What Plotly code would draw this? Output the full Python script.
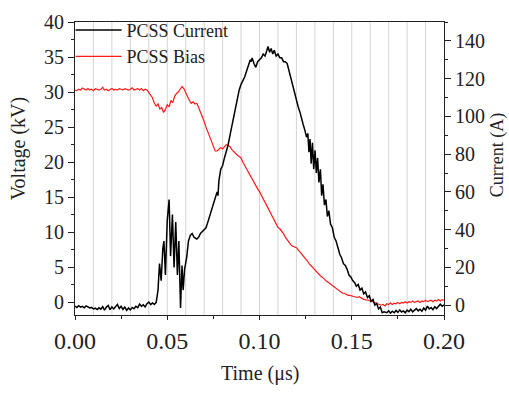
import plotly.graph_objects as go

# ---------------- data ----------------
# PCSS Bias voltage (kV), sampled every 0.001 us from 0 to 0.200 us
bias_kv = [
    30.3, 30.2, 30.4, 30.3, 30.6, 30.4, 30.3, 30.5, 30.3, 30.4,
    30.2, 30.5, 30.4, 30.3, 30.4, 30.7, 30.3, 30.4, 30.2, 30.4,
    30.5, 30.3, 30.4, 30.3, 30.5, 30.4, 30.3, 30.5, 30.4, 30.3,
    30.4, 30.6, 30.3, 30.4, 30.5, 30.3, 30.5, 30.2, 30.4, 30.3,
    29.9, 29.5, 29.2, 28.4, 28.0, 28.3, 27.6, 27.8, 27.1, 27.5,
    28.2, 27.9, 28.8, 28.5, 29.4, 29.8, 30.0, 30.4, 30.8, 30.5,
    29.9, 29.4, 28.8, 28.4, 28.6, 28.3, 28.4, 27.8, 27.2, 26.6,
    25.8, 25.0, 24.3, 23.6, 22.8, 22.0, 21.6, 21.6, 21.9, 22.1,
    21.9, 22.2, 22.5, 22.4, 22.2, 21.8, 21.5, 21.2, 21.0, 20.8,
    20.6, 20.0, 19.5, 19.0, 18.6, 18.0, 17.6, 17.2, 16.7, 16.2,
    15.8, 15.3, 14.8, 14.2, 13.7, 13.3, 12.8, 12.3, 11.9, 11.2,
    10.7, 10.5, 10.2, 9.8, 9.3, 8.9, 8.5, 8.2, 8.0, 7.9,
    7.8, 7.5, 7.2, 6.9, 6.5, 6.2, 5.9, 5.5, 5.2, 4.9,
    4.7, 4.4, 4.1, 3.8, 3.6, 3.3, 3.1, 2.9, 2.7, 2.5,
    2.3, 2.1, 1.8, 1.7, 1.5, 1.3, 1.3, 1.1, 1.0, 1.0,
    0.9, 0.9, 0.8, 0.7, 0.8, 0.6, 0.5, 0.4, 0.4, 0.3,
    0.2, 0.2, 0.0, -0.1, -0.2, -0.3, -0.4, -0.3, -0.5, -0.2,
    -0.3, -0.1, -0.3, -0.1, -0.2, 0.0, -0.2, 0.0, -0.1, 0.1,
    -0.1, 0.1, 0.0, 0.2, 0.0, 0.1, 0.2, 0.0, 0.2, 0.1,
    0.3, 0.1, 0.2, 0.3, 0.1, 0.3, 0.2, 0.4, 0.2, 0.4,
    0.3,
]
bias_time_us = [round(i * 0.001, 3) for i in range(len(bias_kv))]

# PCSS Current (A)
current_time_us = [
    0.000, 0.001, 0.002, 0.003, 0.004, 0.005, 0.006, 0.007, 0.008, 0.009,
    0.010, 0.011, 0.012, 0.013, 0.014, 0.015, 0.016, 0.017, 0.018, 0.019,
    0.020, 0.021, 0.022, 0.023, 0.024, 0.025, 0.026, 0.027, 0.028, 0.029,
    0.030, 0.031, 0.032, 0.033, 0.034, 0.035, 0.036, 0.037, 0.038, 0.039,
    0.040, 0.041, 0.042, 0.043, 0.044,
    0.0450, 0.0458, 0.0467, 0.0476, 0.0482, 0.0490, 0.0500, 0.0510, 0.0518, 0.0528,
    0.0537, 0.0546, 0.0555, 0.0563, 0.0572, 0.0580, 0.0586, 0.0594, 0.0605, 0.0615,
    0.0625, 0.0635, 0.0645, 0.0660, 0.0670, 0.0680, 0.0690, 0.0700, 0.0710, 0.0720,
    0.0730, 0.0740, 0.0750, 0.0760, 0.0770, 0.0775, 0.0780, 0.0790, 0.0800, 0.0810,
    0.0820, 0.0830, 0.0840, 0.0850, 0.0860, 0.0870, 0.0880, 0.0890, 0.0900, 0.0910,
    0.0920, 0.0930, 0.0940, 0.0950, 0.0955, 0.0960, 0.0970, 0.0980, 0.0990, 0.1000,
    0.1010, 0.1020, 0.1030, 0.1040, 0.1046, 0.1055, 0.1063, 0.1072, 0.1080, 0.1090,
    0.1100, 0.1110, 0.1120, 0.1130, 0.1140, 0.1150, 0.1160, 0.1170, 0.1180, 0.1190,
    0.1200, 0.1210, 0.1220, 0.1230, 0.1236, 0.1245, 0.1255, 0.1262, 0.1268, 0.1274,
    0.1280, 0.1287, 0.1294, 0.1301, 0.1308, 0.1315, 0.1322, 0.1330, 0.1337, 0.1344,
    0.1352, 0.1360, 0.1368, 0.1376, 0.1385, 0.1395, 0.1405, 0.1415, 0.1425, 0.1435,
    0.1445, 0.1455, 0.1465, 0.1475, 0.1485, 0.1495, 0.1505, 0.1515, 0.1525, 0.1535,
    0.1545, 0.1555, 0.1565, 0.1575, 0.1585, 0.1595, 0.1605, 0.1615, 0.1625, 0.1635,
    0.1645, 0.1655, 0.1665, 0.1675, 0.169, 0.170, 0.171, 0.172, 0.173, 0.174,
    0.175, 0.176, 0.177, 0.178, 0.179, 0.180, 0.181, 0.182, 0.183, 0.184,
    0.185, 0.186, 0.187, 0.188, 0.189, 0.190, 0.191, 0.192, 0.193, 0.194,
    0.195, 0.196, 0.197, 0.198, 0.199, 0.200,
]
current_a = [
    -0.5, -1.2, -0.3, -1.0, -0.6, -1.4, -0.4, -0.9, -1.5, -1.2,
    -2.0, -1.6, -2.3, -1.4, -2.1, -0.8, -2.6, -1.0, -0.2, -2.4,
    -0.9, -2.0, -0.5, 0.4, -1.8, -0.6, -2.2, -1.0, -2.8, -1.5,
    -2.5, -1.2, -1.9, -0.6, -1.3, 0.6, -0.5, 0.2, -0.9, 0.8,
    1.6, 0.3, 1.2, 0.4, 1.5,
    8, 22, 13, 30, 34, 16, 45, 56, 26, 48,
    20, 44, 16, 34, -1.5, 21, 8, 19, 25, 34,
    37, 38, 36, 35, 36, 38, 39, 40, 41, 44,
    47, 50, 53, 57, 60, 58, 66, 72, 74, 78,
    81, 85, 90, 95, 100, 105, 110, 114, 117, 119,
    121, 124, 127, 130, 129, 131, 128, 126, 129, 130,
    131, 133, 132, 135, 137, 134, 136, 133, 135, 132,
    133, 131, 131, 129, 129, 128, 124, 120, 116, 112,
    108, 105, 102, 99, 96, 93, 89, 91, 81, 88,
    75, 86, 72, 82, 70, 78, 65, 72, 58, 64,
    53, 56, 47, 50, 43, 41, 36, 34, 30, 27,
    25, 22, 21, 19, 16, 15, 13, 12, 10, 11,
    8, 9, 6, 7, 4, 5, 2, 3, 0, 1,
    -2, -1, -4, -3.5, -4, -3, -4.2, -3.2, -4, -2.8,
    -3.8, -2.5, -3.6, -3, -4, -2.6, -3.4, -2.2, -3.5, -2.8,
    -1.8, -3.0, -2.2, -3.2, -1.5, -2.6, -0.5, -2.0, -1.2, -2.4,
    -0.8, -1.8, -0.4, 0.5, -0.6, 0.2,
]

x_ticks = [0.00, 0.05, 0.10, 0.15, 0.20]
v_ticks = [0, 5, 10, 15, 20, 25, 30, 35, 40]
i_ticks = [0, 20, 40, 60, 80, 100, 120, 140]
grid_x = [0.01 * k for k in range(1, 20)]

FONT = "Liberation Serif, Times New Roman, serif"
INK = "#222"

fig = go.Figure()
fig.add_trace(go.Scatter(
    x=current_time_us, y=current_a, name="PCSS Current", yaxis="y2",
    mode="lines", line=dict(color="black", width=1.5),
))
fig.add_trace(go.Scatter(
    x=bias_time_us, y=bias_kv, name="PCSS Bias", yaxis="y",
    mode="lines", line=dict(color="#ff1a1a", width=1.2),
))

shapes = [
    dict(type="line", xref="x", yref="paper", x0=g, x1=g, y0=0, y1=1,
         line=dict(color="#d4d4d4", width=1), layer="below")
    for g in grid_x
]

annotations = [
    dict(text="Time (μs)", xref="paper", yref="paper", x=0.501, y=-0.20,
         xanchor="center", yanchor="middle", showarrow=False,
         font=dict(size=20, family=FONT, color=INK)),
    dict(text="Voltage (kV)", xref="paper", yref="paper", x=-0.1545, y=0.569,
         xanchor="center", yanchor="middle", showarrow=False, textangle=-90,
         font=dict(size=20, family=FONT, color=INK)),
    dict(text="Current (A)", xref="paper", yref="paper", x=1.1436, y=0.545,
         xanchor="center", yanchor="middle", showarrow=False, textangle=-90,
         font=dict(size=18, family=FONT, color=INK)),
]

fig.update_layout(
    width=509, height=393,
    margin=dict(l=75, r=65, t=16, b=78),
    paper_bgcolor="white", plot_bgcolor="white",
    font=dict(family=FONT, color=INK),
    shapes=shapes,
    annotations=annotations,
    showlegend=True,
    legend=dict(x=-0.012, y=1.035, xanchor="left", yanchor="top",
                bgcolor="rgba(0,0,0,0)", font=dict(size=18, family=FONT, color=INK),
                tracegroupgap=0, itemwidth=46),
    xaxis=dict(
        range=[0, 0.2], tickvals=x_ticks, tickformat=".2f",
        ticks="outside", ticklen=4, tickcolor=INK, showgrid=False,
        showline=True, linecolor=INK, linewidth=1, mirror=True,
        tickfont=dict(size=24, family=FONT, color=INK), zeroline=False,
        minor=dict(dtick=0.025, ticks="outside", ticklen=3, tickcolor=INK),
        automargin=False,
    ),
    yaxis=dict(
        range=[-1.8, 40], tickvals=v_ticks,
        ticks="outside", ticklen=6, tickcolor=INK, showgrid=False,
        showline=True, linecolor=INK, linewidth=1, zeroline=False,
        tickfont=dict(size=20, family=FONT, color=INK),
        minor=dict(dtick=2.5, ticks="outside", ticklen=3, tickcolor=INK),
        automargin=False,
    ),
    yaxis2=dict(
        range=[-5.2, 150], tickvals=i_ticks, overlaying="y", side="right",
        ticks="outside", ticklen=6, tickcolor=INK, showgrid=False,
        showline=True, linecolor=INK, linewidth=1, zeroline=False,
        tickfont=dict(size=20, family=FONT, color=INK),
        minor=dict(dtick=10, ticks="outside", ticklen=3, tickcolor=INK),
        automargin=False,
    ),
)

fig.write_html("out.html", config={"displayModeBar": False},
               post_script="document.body.style.margin='0';")
